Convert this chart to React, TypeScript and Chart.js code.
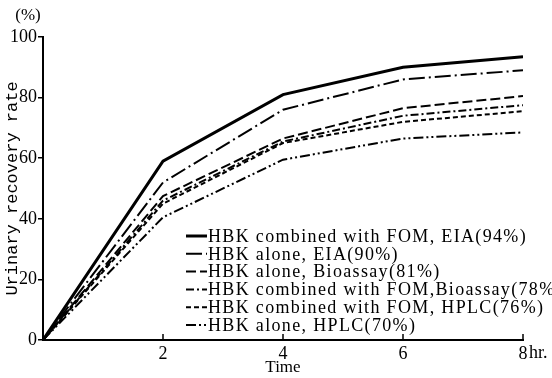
import React, { useEffect, useRef } from "react";
import { Chart, registerables } from "chart.js";

Chart.register(...registerables);

const times = [0, 2, 4, 6, 8];
const combinedEIA = [0, 59, 81, 90, 93.5];
const aloneEIA = [0, 52, 76, 86, 89];
const aloneBioassay = [0, 47.5, 66.5, 76.5, 80.5];
const combinedBioassay = [0, 46, 65.5, 74, 77.5];
const combinedHPLC = [0, 45, 65, 72, 75.5];
const aloneHPLC = [0, 40.5, 59.5, 66.5, 68.5];

const seriesLabels = [
  "HBK combined with FOM, EIA(94%)",
  "HBK alone, EIA(90%)",
  "HBK alone, Bioassay(81%)",
  "HBK combined with FOM,Bioassay(78%)",
  "HBK combined with FOM, HPLC(76%)",
  "HBK alone, HPLC(70%)",
];
const xTitle = "Time";
const yTitle = "Urinary recovery rate";
const yUnit = "(%)";
const xUnit = "hr.";

const SERIF = "'Liberation Serif', 'DejaVu Serif', serif";

const extras = {
  id: "extras",
  afterDraw(chart: any) {
    const ctx = chart.ctx as CanvasRenderingContext2D;
    const xs = chart.scales.x;
    const ys = chart.scales.y;
    ctx.save();
    ctx.strokeStyle = "#000";
    ctx.fillStyle = "#000";
    // inward x ticks
    ctx.lineWidth = 1.5;
    [2, 4, 6, 8].forEach((v) => {
      const px = xs.getPixelForValue(v);
      ctx.beginPath();
      ctx.moveTo(px, ys.bottom);
      ctx.lineTo(px, ys.bottom - 6);
      ctx.stroke();
    });
    // units
    ctx.font = `18px ${SERIF}`;
    ctx.textBaseline = "middle";
    ctx.textAlign = "left";
    ctx.fillText(xUnit, xs.getPixelForValue(8) + 6, 353);
    ctx.font = `17px ${SERIF}`;
    ctx.textAlign = "center";
    ctx.fillText(yUnit, 28, 16);
    // legend
    ctx.font = `18px ${SERIF}`;
    ctx.textAlign = "left";
    (ctx as any).letterSpacing = "0px";
    const w0 = ctx.measureText(seriesLabels[0]).width;
    const sp = (319 - w0) / seriesLabels[0].length;
    (ctx as any).letterSpacing = `${sp}px`;
    const rowY0 = 236;
    const rowStep = 17.8;
    chart.data.datasets.forEach((ds: any, i: number) => {
      const y = rowY0 + i * rowStep;
      ctx.save();
      ctx.strokeStyle = ds.borderColor;
      ctx.lineWidth = ds.borderWidth;
      ctx.setLineDash(ds.borderDash || []);
      ctx.beginPath();
      ctx.moveTo(186, y);
      ctx.lineTo(207, y);
      ctx.stroke();
      ctx.restore();
      ctx.fillText(ds.label, 208, y + 1);
    });
    ctx.restore();
  },
};

export default function App() {
  const ref = useRef<HTMLCanvasElement>(null);
  useEffect(() => {
    document.body.style.margin = "0";
    const mk = (label: string, data: number[], width: number, dash: number[]) => ({
      label,
      data: times.map((t, i) => ({ x: t, y: data[i] })),
      borderColor: "#000",
      backgroundColor: "#000",
      borderWidth: width,
      borderDash: dash,
      pointRadius: 0,
      tension: 0,
      fill: false,
    });
    const chart = new Chart(ref.current!, {
      type: "line",
      data: {
        datasets: [
          mk(seriesLabels[0], combinedEIA, 3, []),
          mk(seriesLabels[1], aloneEIA, 2, [16, 4, 2, 4]),
          mk(seriesLabels[2], aloneBioassay, 2, [10, 4]),
          mk(seriesLabels[3], combinedBioassay, 2, [8, 3, 2, 3]),
          mk(seriesLabels[4], combinedHPLC, 2, [5, 3]),
          mk(seriesLabels[5], aloneHPLC, 2, [10, 3, 2, 3, 2, 3]),
        ],
      },
      options: {
        animation: false,
        responsive: false,
        layout: { padding: { top: 37, right: 29, left: 0, bottom: 0 } },
        plugins: { legend: { display: false }, tooltip: { enabled: false } },
        scales: {
          x: {
            type: "linear",
            min: 0,
            max: 8,
            afterFit: (s: any) => {
              s.height = 38;
            },
            border: { display: true, color: "#000", width: 2 },
            grid: { display: false },
            ticks: {
              stepSize: 2,
              color: "#000",
              font: { family: SERIF, size: 18 },
              padding: -5,
              callback: (v: any) => (v === 0 ? "" : String(v)),
            },
            title: {
              display: true,
              text: xTitle,
              color: "#000",
              font: { family: SERIF, size: 17 },
              padding: { top: 0, bottom: 0 },
            },
          },
          y: {
            type: "linear",
            min: 0,
            max: 100,
            afterFit: (s: any) => {
              s.width = 43;
            },
            border: { display: true, color: "#000", width: 2 },
            grid: {
              display: true,
              drawOnChartArea: false,
              drawTicks: true,
              tickLength: 5,
              color: "#000",
              lineWidth: 1.5,
            },
            ticks: {
              stepSize: 20,
              color: "#000",
              font: { family: SERIF, size: 18 },
              padding: 1,
            },
            title: {
              display: true,
              text: yTitle,
              color: "#000",
              font: { family: "'Liberation Mono', 'DejaVu Sans Mono', monospace", size: 17 },
              padding: { top: 2, bottom: 0 },
            },
          },
        },
      },
      plugins: [extras],
    });
    return () => chart.destroy();
  }, []);
  return <canvas ref={ref} width={552} height={378} style={{ display: "block" }} />;
}
